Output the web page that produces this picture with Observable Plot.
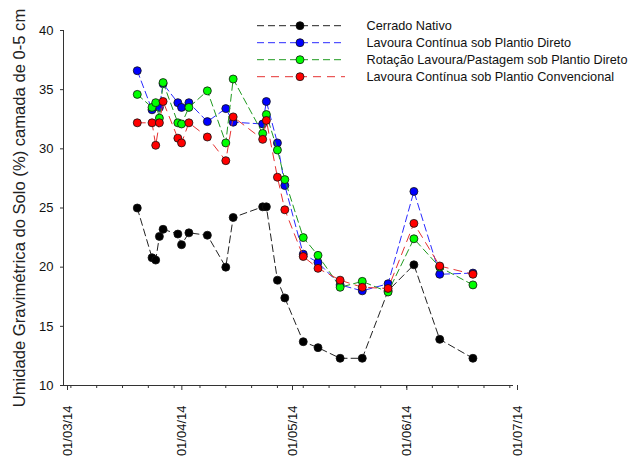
<!DOCTYPE html>
<html>
<head>
<meta charset="utf-8">
<script src="https://cdn.jsdelivr.net/npm/d3@7"></script>
<script src="https://cdn.jsdelivr.net/npm/@observablehq/plot@0.6"></script>
<style>
  html, body { margin: 0; padding: 0; background: #fff; }
  #wrap { position: relative; width: 629px; height: 459px; overflow: hidden; }
  #legend { position: absolute; left: 0; top: 0; }
  g[aria-label="y-axis label"] text { font-size: 16.6px; fill: #222; }
</style>
</head>
<body>
<div id="wrap"></div>
<script>
// ---- data ----
const dates = [
  "2014-03-21","2014-03-25","2014-03-26","2014-03-27","2014-03-28",
  "2014-04-01","2014-04-02","2014-04-04","2014-04-09","2014-04-14","2014-04-16",
  "2014-04-24","2014-04-25","2014-04-28","2014-04-30",
  "2014-05-05","2014-05-09","2014-05-15","2014-05-21","2014-05-28",
  "2014-06-04","2014-06-11","2014-06-20"
];
const cerradoNativo = [25.0,20.8,20.6,22.6,23.2, 22.8,21.9,22.9,22.7,20.0,24.2, 25.1,25.1,18.9,17.4, 13.7,13.2,12.3,12.3,18.0, 20.2,13.9,12.3];
const lavouraPD     = [36.6,33.3,33.6,33.5,35.5, 33.9,33.5,33.9,32.3,33.4,32.25, 32.1,34.0,30.5,26.9, 21.1,20.4,18.5,18.0,18.6, 26.4,19.4,19.5];
const rotacaoPD     = [34.6,33.5,33.9,32.6,35.6, 32.2,32.1,33.5,34.9,30.5,35.9, 31.3,32.9,29.9,27.4, 22.5,21.0,18.3,18.8,17.9, 22.4,20.0,18.5];
const lavouraPC     = [32.2,32.2,30.3,32.2,34.0, 30.9,30.5,32.2,31.0,29.0,32.7, 30.8,32.4,27.6,24.85, 20.9,19.9,18.9,18.3,18.2, 23.7,20.1,19.4];

const seriesNames = [
  "Cerrado Nativo",
  "Lavoura Contínua sob Plantio Direto",
  "Rotação Lavoura/Pastagem sob Plantio Direto",
  "Lavoura Contínua sob Plantio Convencional"
];
const seriesValues = [cerradoNativo, lavouraPD, rotacaoPD, lavouraPC];
const yTicks = [10, 15, 20, 25, 30, 35, 40];
const monthTicks = ["2014-03-01","2014-04-01","2014-05-01","2014-06-01","2014-07-01"];
const yLabel = "Umidade Gravimétrica do Solo (%) camada de 0-5 cm";

// ---- styles ----
const lineColors = ["#222222", "#2a2aff", "#1f9a1f", "#e63232"];
const fillColors = ["#000000", "#0000ff", "#00ff00", "#ff0000"];
const dashes = ["7,4", "7,4", "7,4", "8,6"];

const parse = s => new Date(s);
const xDomain = [parse(monthTicks[0]), parse(monthTicks[monthTicks.length - 1])];
const minorTicks = d3.utcMonday.range(xDomain[0], d3.utcDay.offset(xDomain[1], 1));

const seriesMarks = [];
seriesValues.forEach((vals, i) => {
  const data = dates.map((d, j) => ({date: parse(d), value: vals[j]}));
  seriesMarks.push(Plot.line(data, {x: "date", y: "value", stroke: lineColors[i], strokeWidth: 1, strokeDasharray: dashes[i]}));
  seriesMarks.push(Plot.dot(data, {x: "date", y: "value", r: 4, fill: fillColors[i], stroke: "#111", strokeWidth: 0.8}));
});

const chart = Plot.plot({
  width: 629, height: 459,
  marginLeft: 63, marginRight: 116, marginTop: 30, marginBottom: 74,
  style: {fontFamily: "'Liberation Sans', Arial, sans-serif", fontSize: "13px", color: "#111", background: "white"},
  x: {type: "utc", domain: xDomain},
  y: {domain: [10, 40]},
  marks: [
    Plot.ruleY([10], {stroke: "#333", strokeWidth: 1}),
    Plot.ruleX([xDomain[0]], {stroke: "#333", strokeWidth: 1}),
    Plot.axisX({ticks: minorTicks, tickSize: 3, tickFormat: () => "", stroke: "#333"}),
    Plot.axisX({ticks: monthTicks.map(parse), tickSize: 5, tickFormat: d3.utcFormat("%d/%m/%y"),
                tickRotate: -90, tickPadding: 15, dx: 4, stroke: "#333", label: null}),
    Plot.axisY({ticks: yTicks, tickSize: 3, tickPadding: 7, stroke: "#333",
                label: yLabel, labelAnchor: "center", labelArrow: "none", labelOffset: 50}),
    ...seriesMarks
  ]
});

const wrap = document.getElementById("wrap");
wrap.appendChild(chart);

// ---- legend (overlay) ----
const ns = "http://www.w3.org/2000/svg";
const leg = document.createElementNS(ns, "svg");
leg.setAttribute("id", "legend");
leg.setAttribute("width", 629);
leg.setAttribute("height", 100);
const rowY = [25.7, 42.7, 59.7, 76.7];
seriesNames.forEach((name, i) => {
  const y = rowY[i];
  const ln = document.createElementNS(ns, "line");
  ln.setAttribute("x1", 257); ln.setAttribute("x2", 345);
  ln.setAttribute("y1", y); ln.setAttribute("y2", y);
  ln.setAttribute("stroke", lineColors[i]);
  ln.setAttribute("stroke-width", 1);
  ln.setAttribute("stroke-dasharray", dashes[i]);
  leg.appendChild(ln);
  const c = document.createElementNS(ns, "circle");
  c.setAttribute("cx", 300); c.setAttribute("cy", y); c.setAttribute("r", 4);
  c.setAttribute("fill", fillColors[i]); c.setAttribute("stroke", "#111"); c.setAttribute("stroke-width", 0.8);
  leg.appendChild(c);
  const t = document.createElementNS(ns, "text");
  t.setAttribute("x", 366.5); t.setAttribute("y", y);
  t.setAttribute("dy", "0.35em");
  t.setAttribute("font-family", "'Liberation Sans', Arial, sans-serif");
  t.setAttribute("font-size", "12.7px");
  t.setAttribute("fill", "#111");
  t.textContent = name;
  leg.appendChild(t);
});
wrap.appendChild(leg);
</script>
</body>
</html>
